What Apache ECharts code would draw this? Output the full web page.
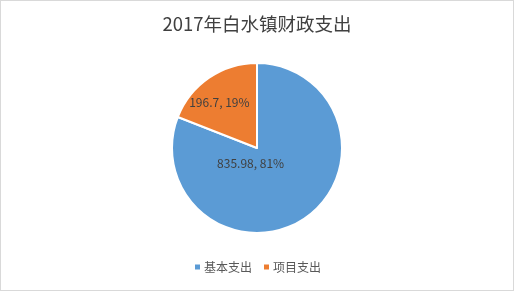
<!DOCTYPE html>
<html>
<head>
<meta charset="utf-8">
<script src="https://cdn.jsdelivr.net/npm/echarts@6/dist/echarts.min.js"></script>
<style>
html,body{margin:0;padding:0;background:#fff;}
#wrap{position:absolute;left:0;top:0;width:512px;height:289px;border:1px solid #d9d9d9;}
#chart{width:512px;height:289px;}
</style>
</head>
<body>
<div id="wrap"><div id="chart"></div></div>
<script>
var titleText = '2017年白水镇财政支出';
var categories = ['基本支出', '项目支出'];
var values = [835.98, 196.7];
var percents = ['81%', '19%'];
var colors = ['#5B9BD5', '#ED7D31'];
// label shifts relative to default 'inside' placement
var labelShift = [[-32, -22], [-12, -8]];

var chart = echarts.init(document.getElementById('chart'), null, {renderer: 'canvas'});
var data = categories.map(function (c, i) {
  return {name: c, value: values[i], itemStyle: {color: colors[i]}};
});
chart.setOption({
  animation: false,
  title: {
    text: titleText,
    left: 'center',
    top: 9,
    textStyle: {fontFamily: 'Noto Sans CJK SC', fontSize: 18.5, fontWeight: 'normal', color: '#404040'}
  },
  legend: {
    bottom: 12,
    left: 'center',
    itemWidth: 7,
    itemHeight: 7,
    itemGap: 10,
    icon: 'rect',
    textStyle: {fontFamily: 'Noto Sans CJK SC', fontSize: 12, color: '#595959', padding: [0, 0, 0, -2]},
    data: categories
  },
  series: [{
    type: 'pie',
    center: [256, 147],
    radius: [0, 85],
    startAngle: 90,
    clockwise: true,
    itemStyle: {borderColor: '#fff', borderWidth: 2},
    label: {
      show: true,
      position: 'inside',
      fontFamily: 'Noto Sans CJK SC',
      fontSize: 12,
      color: '#404040',
      formatter: function (p) { return p.value + ', ' + percents[p.dataIndex]; }
    },
    labelLine: {show: false},
    labelLayout: function (p) {
      var s = labelShift[p.dataIndex];
      return {dx: s[0], dy: s[1]};
    },
    emphasis: {disabled: true},
    data: data
  }]
});
</script>
</body>
</html>
